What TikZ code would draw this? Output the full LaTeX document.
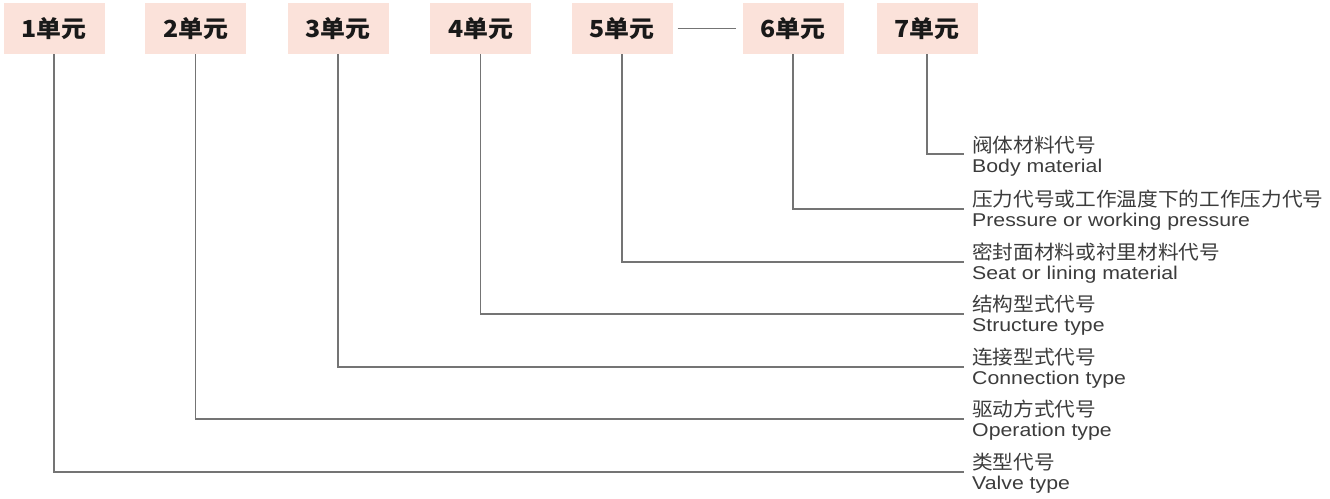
\documentclass[tikz,border=0pt]{standalone}
\usepackage{fontspec}
\setmainfont{Liberation Sans}
\newfontfamily\cjk{Noto Sans CJK SC}[FakeStretch=1.06]
\newfontfamily\en{Liberation Sans}[FakeStretch=1.15]
\definecolor{boxfill}{HTML}{FBE2DA}
\definecolor{linegrey}{HTML}{747474}
\definecolor{textgrey}{HTML}{3C3C3C}
\tikzset{
  unitbox/.style={fill=boxfill, draw=none, minimum width=101pt, minimum height=51pt, inner sep=0pt,
    font=\cjk\bfseries\fontsize{23.5}{26}\selectfont, text=black!90},
  conn/.style={draw=linegrey, line width=1.5pt},
  cnlabel/.style={anchor=base west, inner sep=0pt, font=\cjk\fontsize{19.5}{22}\selectfont, text=textgrey},
  enlabel/.style={anchor=base west, inner sep=0pt, font=\en\fontsize{18.5}{20}\selectfont, text=textgrey}
}
\begin{document}
\begin{tikzpicture}[x=1pt,y=-1pt]
\useasboundingbox (0,0) rectangle (1330,498);
% unit boxes
\node[unitbox] (u1) at (54,28.5) {1单元};
\node[unitbox] (u2) at (195.5,28.5) {2单元};
\node[unitbox] (u3) at (338,28.5) {3单元};
\node[unitbox] (u4) at (480.5,28.5) {4单元};
\node[unitbox] (u5) at (622,28.5) {5单元};
\node[unitbox] (u6) at (793,28.5) {6单元};
\node[unitbox] (u7) at (927,28.5) {7单元};
\draw[conn, line width=1.2pt, shorten <=5pt, shorten >=6pt] (u5.east) -- (u6.west);
% line ends
\coordinate (e7) at (964,154);
\coordinate (e6) at (964,209);
\coordinate (e5) at (964,262);
\coordinate (e4) at (964,314);
\coordinate (e3) at (964,367);
\coordinate (e2) at (964,419);
\coordinate (e1) at (964,472);
% connectors
\draw[conn] (u7.south) |- (e7);
\draw[conn] (u6.south) |- (e6);
\draw[conn] (u5.south) |- (e5);
\draw[conn] (u4.south) |- (e4);
\draw[conn] (u3.south) |- (e3);
\draw[conn] (u2.south) |- (e2);
\draw[conn] (u1.south) |- (e1);
% labels
\node[cnlabel] (c7) at (972,152.5) {阀体材料代号};
\node[enlabel] (n7) at (972,172) {Body material};
\node[cnlabel] (c6) at (972,206.5) {压力代号或工作温度下的工作压力代号};
\node[enlabel] (n6) at (972,226) {Pressure or working pressure};
\node[cnlabel] (c5) at (972,259.5) {密封面材料或衬里材料代号};
\node[enlabel] (n5) at (972,279) {Seat or lining material};
\node[cnlabel] (c4) at (972,311.5) {结构型式代号};
\node[enlabel] (n4) at (972,331) {Structure type};
\node[cnlabel] (c3) at (972,364.5) {连接型式代号};
\node[enlabel] (n3) at (972,384) {Connection type};
\node[cnlabel] (c2) at (972,416.5) {驱动方式代号};
\node[enlabel] (n2) at (972,436) {Operation type};
\node[cnlabel] (c1) at (972,469.5) {类型代号};
\node[enlabel] (n1) at (972,489) {Valve type};
\end{tikzpicture}
\end{document}
